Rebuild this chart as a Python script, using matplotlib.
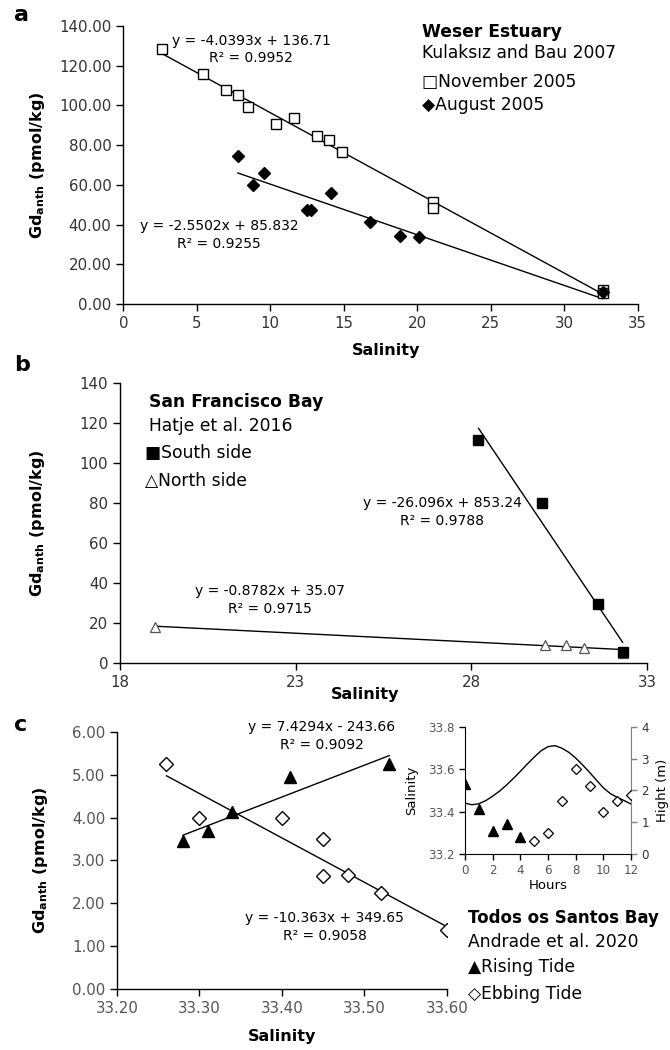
import matplotlib
matplotlib.use('Agg')
import matplotlib.pyplot as plt
import numpy as np

plt.rcParams['font.family'] = ['DejaVu Sans']
plt.rcParams['mathtext.fontset'] = 'dejavusans'

# panel a - Weser Estuary
nov_sal = [2.6, 5.4, 7.0, 7.8, 8.5, 10.4, 11.6, 13.2, 14.0, 14.9, 21.1, 21.1, 32.6, 32.6]
nov_gd = [128.3, 115.7, 107.5, 105.0, 99.4, 90.7, 93.6, 84.7, 82.7, 76.6, 51.5, 48.3, 7.0, 5.5]
aug_sal = [7.8, 8.8, 9.6, 12.5, 12.8, 14.1, 16.8, 18.8, 20.1, 32.6]
aug_gd = [74.3, 59.7, 65.9, 47.5, 47.1, 55.8, 41.1, 34.0, 33.5, 5.9]
nov_fit = (-4.0393, 136.71)
aug_fit = (-2.5502, 85.832)

# panel b - San Francisco Bay
south_sal = [28.2, 30.0, 31.6, 32.3]
south_gd = [111.6, 79.9, 29.4, 5.5]
north_sal = [19.0, 30.1, 30.7, 31.2, 32.3]
north_gd = [18.0, 8.9, 8.9, 7.7, 5.0]
south_fit = (-26.096, 853.24)
north_fit = (-0.8782, 35.07)

# panel c - Todos os Santos Bay
rise_sal = [33.28, 33.31, 33.34, 33.41, 33.53]
rise_gd = [3.46, 3.69, 4.14, 4.94, 5.25]
ebb_sal = [33.26, 33.30, 33.40, 33.45, 33.45, 33.48, 33.52, 33.60]
ebb_gd = [5.25, 3.99, 3.98, 3.50, 2.64, 2.65, 2.24, 1.38]
rise_fit = (7.4294, -243.66)
ebb_fit = (-10.363, 349.65)

# inset - salinity and tide height over time
rise_hours = [0, 1, 2, 3, 4]
rise_hour_sal = [33.53, 33.41, 33.31, 33.34, 33.28]
ebb_hours = [5, 6, 7, 8, 9, 10, 11, 12]
ebb_hour_sal = [33.26, 33.30, 33.45, 33.60, 33.52, 33.40, 33.45, 33.48]
tide_hours = [0, 0.5, 1, 1.5, 2, 2.5, 3, 3.5, 4, 4.5, 5, 5.5, 6, 6.5, 7, 7.5, 8, 8.5,
              9, 9.5, 10, 10.5, 11, 11.5, 12]
tide_height = [1.60, 1.55, 1.58, 1.68, 1.82, 1.98, 2.17, 2.38, 2.60, 2.83, 3.05, 3.25,
               3.38, 3.41, 3.33, 3.20, 3.02, 2.80, 2.57, 2.32, 2.08, 1.90, 1.78, 1.68, 1.57]

ylab = r'Gd$_\mathbf{anth}$ (pmol/kg)'
tk = '#333333'
LAB = 11.5   # axis labels
LEG = 12.3   # legend-like text
EQ = 10      # equations


def style(ax, col=tk):
    for s in ['top', 'right']:
        ax.spines[s].set_visible(False)
    for s in ['left', 'bottom']:
        ax.spines[s].set_linewidth(1.0)
        ax.spines[s].set_color('black')
    ax.tick_params(direction='out', length=5, width=1, labelsize=10.8, labelcolor=col)


def fitline(ax, xs, fit):
    x = np.array([min(xs), max(xs)])
    ax.plot(x, fit[0] * x + fit[1], color='black', lw=1.0, zorder=2)


fig = plt.figure(figsize=(6.7, 10.5), dpi=100)

# ---------- a ----------
ax = fig.add_axes([0.184, 0.7105, 0.768, 0.2648])
style(ax)
fitline(ax, nov_sal, nov_fit)
fitline(ax, aug_sal, aug_fit)
ax.plot(nov_sal, nov_gd, 's', ms=7, mfc='white', mec='black', mew=1, zorder=3)
ax.plot(aug_sal, aug_gd, 'D', ms=6.5, color='black', zorder=3)
ax.set_xlim(0, 35)
ax.set_ylim(0, 140)
ax.set_xticks(range(0, 36, 5))
ax.set_yticks(range(0, 141, 20))
ax.set_yticklabels(['%.2f' % v for v in range(0, 141, 20)])
ax.set_ylabel(ylab, fontsize=LAB, fontweight='bold')
ax.yaxis.set_label_coords(-0.148, 0.5)
ax.set_xlabel('Salinity', fontsize=LAB, fontweight='bold')
ax.xaxis.set_label_coords(0.51, -0.14)
ax.text(8.7, 132.6, 'y = -4.0393x + 136.71', fontsize=EQ, ha='center', va='center')
ax.text(8.7, 123.7, 'R² = 0.9952', fontsize=EQ, ha='center', va='center')
ax.text(6.5, 39.4, 'y = -2.5502x + 85.832', fontsize=EQ, ha='center', va='center')
ax.text(6.5, 30.3, 'R² = 0.9255', fontsize=EQ, ha='center', va='center')
ax.text(20.3, 137.1, 'Weser Estuary', fontsize=LEG, fontweight='bold', va='center')
ax.text(20.3, 126.2, 'Kulaksız and Bau 2007', fontsize=LEG, va='center')
ax.text(20.3, 112.0, '□November 2005', fontsize=LEG, va='center')
ax.text(20.3, 100.2, '◆August 2005', fontsize=LEG, va='center')
fig.text(14 / 670, 1 - 15 / 1050, 'a', fontsize=16, fontweight='bold', va='center')

# ---------- b ----------
ax = fig.add_axes([0.179, 0.3686, 0.787, 0.2667])
style(ax)
fitline(ax, south_sal, south_fit)
fitline(ax, north_sal, north_fit)
ax.plot(north_sal, north_gd, '^', ms=7, mfc='white', mec='#555555', mew=0.9, zorder=3)
ax.plot(south_sal, south_gd, 's', ms=7, color='black', zorder=4)
ax.set_xlim(18, 33)
ax.set_ylim(0, 140)
ax.set_xticks([18, 23, 28, 33])
ax.set_yticks(range(0, 141, 20))
ax.set_ylabel(ylab, fontsize=LAB, fontweight='bold')
ax.yaxis.set_label_coords(-0.139, 0.5)
ax.set_xlabel('Salinity', fontsize=LAB, fontweight='bold')
ax.xaxis.set_label_coords(0.465, -0.085)
ax.text(27.17, 79.9, 'y = -26.096x + 853.24', fontsize=EQ, ha='center', va='center')
ax.text(27.17, 71.2, 'R² = 0.9788', fontsize=EQ, ha='center', va='center')
ax.text(22.26, 36.1, 'y = -0.8782x + 35.07', fontsize=EQ, ha='center', va='center')
ax.text(22.26, 27.2, 'R² = 0.9715', fontsize=EQ, ha='center', va='center')
ax.text(18.83, 130.7, 'San Francisco Bay', fontsize=LEG, fontweight='bold', va='center')
ax.text(18.83, 118.5, 'Hatje et al. 2016', fontsize=LEG, va='center')
ax.text(18.7, 104.8, '■South side', fontsize=LEG, va='center')
ax.text(18.7, 91.2, '△North side', fontsize=LEG, va='center')
fig.text(14 / 670, 1 - 365 / 1050, 'b', fontsize=16, fontweight='bold', va='center')

# ---------- c ----------
ax = fig.add_axes([0.1746, 0.0581, 0.4925, 0.2448])
style(ax, '#555555')
fitline(ax, rise_sal, rise_fit)
fitline(ax, ebb_sal, ebb_fit)
ax.plot(ebb_sal, ebb_gd, 'D', ms=7, mfc='white', mec='black', mew=1, zorder=3)
ax.plot(rise_sal, rise_gd, '^', ms=8.5, color='black', zorder=4)
ax.set_xlim(33.2, 33.6)
ax.set_ylim(0, 6)
xt = [33.2, 33.3, 33.4, 33.5, 33.6]
ax.set_xticks(xt)
ax.set_xticklabels(['%.2f' % v for v in xt])
ax.set_yticks(range(0, 7))
ax.set_yticklabels(['%.2f' % v for v in range(0, 7)])
ax.set_ylabel(ylab, fontsize=LAB, fontweight='bold')
ax.yaxis.set_label_coords(-0.203, 0.5)
ax.set_xlabel('Salinity', fontsize=LAB, fontweight='bold')
ax.xaxis.set_label_coords(0.5, -0.155)
ax.text(33.448, 6.12, 'y = 7.4294x - 243.66', fontsize=EQ, ha='center', va='center', clip_on=False)
ax.text(33.448, 5.69, 'R² = 0.9092', fontsize=EQ, ha='center', va='center')
ax.text(33.452, 1.66, 'y = -10.363x + 349.65', fontsize=EQ, ha='center', va='center')
ax.text(33.452, 1.24, 'R² = 0.9058', fontsize=EQ, ha='center', va='center')
fig.text(14 / 670, 1 - 725 / 1050, 'c', fontsize=16, fontweight='bold', va='center')
lx = 468 / 670
fig.text(lx, 1 - 918 / 1050, 'Todos os Santos Bay', fontsize=12, fontweight='bold', va='center')
fig.text(lx, 1 - 942 / 1050, 'Andrade et al. 2020', fontsize=LEG, va='center')
fig.text(lx, 1 - 967 / 1050, '▲Rising Tide', fontsize=LEG, va='center')
fig.text(lx, 1 - 994 / 1050, '◇Ebbing Tide', fontsize=LEG, va='center')

# ---------- inset ----------
axi = fig.add_axes([0.694, 0.1867, 0.248, 0.121])
axh = axi.twinx()
axi.spines['top'].set_visible(False)
axh.spines['top'].set_visible(False)
axh.spines['left'].set_visible(False)
axh.spines['bottom'].set_visible(False)
axi.spines['right'].set_visible(False)
axh.spines['right'].set_color('#808080')
axh.plot(tide_hours, tide_height, color='black', lw=1.0)
axi.plot(rise_hours, rise_hour_sal, '^', ms=7, color='black', zorder=3)
axi.plot(ebb_hours, ebb_hour_sal, 'D', ms=5.5, mfc='white', mec='black', mew=0.9, zorder=3)
axi.set_zorder(axh.get_zorder() + 1)
axi.patch.set_visible(False)
axi.set_xlim(0, 12)
axi.set_ylim(33.2, 33.8)
axh.set_ylim(0, 4)
axi.set_xticks(range(0, 13, 2))
axi.set_yticks([33.2, 33.4, 33.6, 33.8])
axi.set_yticklabels(['33.2', '33.4', '33.6', '33.8'])
axh.set_yticks(range(0, 5))
axi.tick_params(direction='out', length=4, width=1, labelsize=8.6, labelcolor='#555555')
axh.tick_params(direction='out', length=4, width=1, labelsize=8.6, colors='#808080', labelcolor='#333333')
axi.set_xlabel('Hours', fontsize=9.5, labelpad=1)
axi.set_ylabel('Salinity', fontsize=9.5)
axi.yaxis.set_label_coords(-0.283, 0.5)
axh.set_ylabel('Hight (m)', fontsize=9.5, va='center')
axh.yaxis.set_label_coords((662 - 465) / 166, 0.5)

fig.savefig('out.png', dpi=100)
